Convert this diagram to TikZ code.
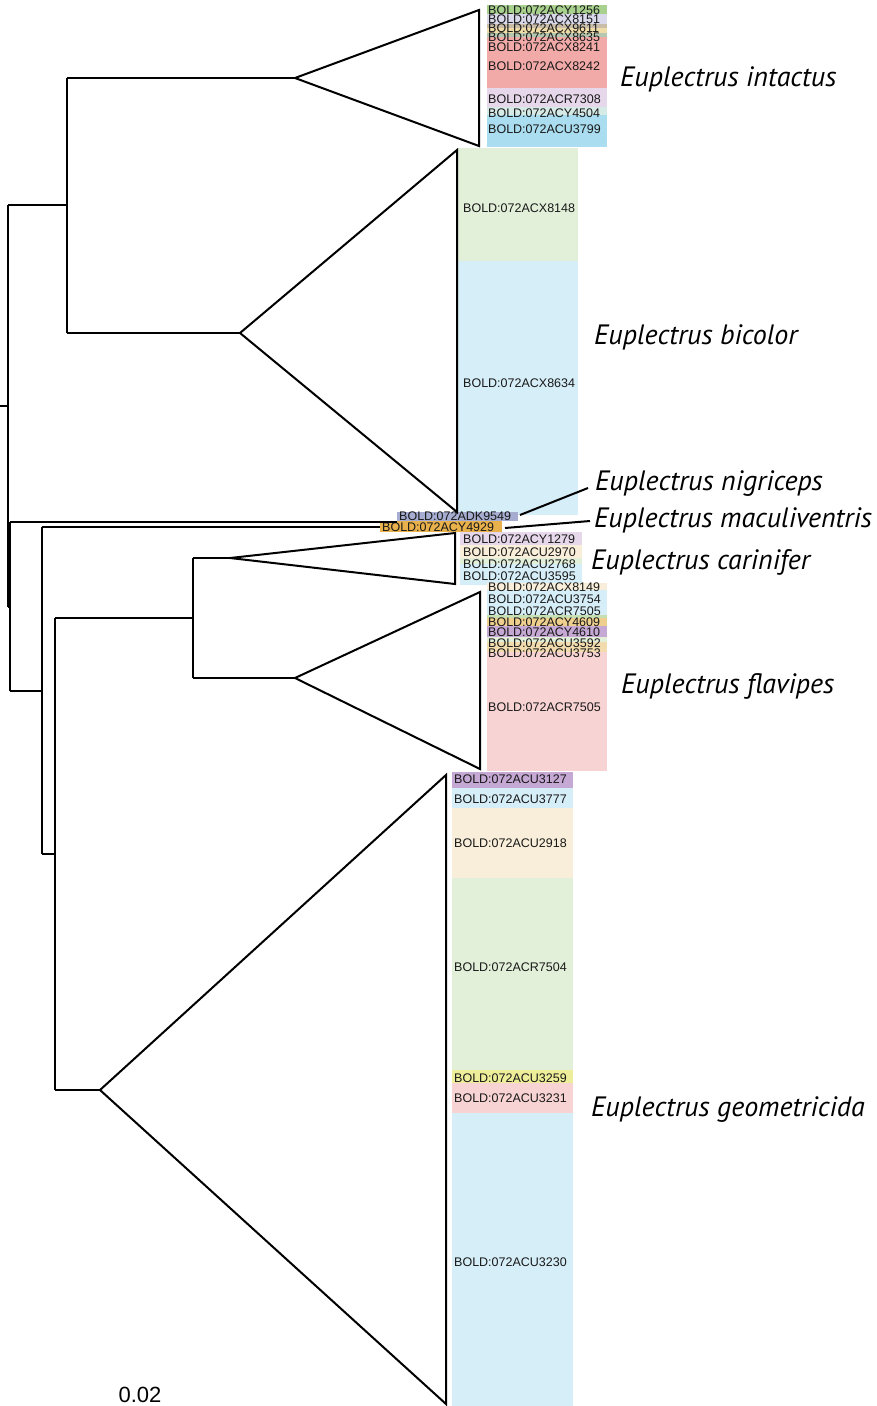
\documentclass[tikz,border=0pt]{standalone}
\usepackage{fontspec}
\setmainfont{Liberation Sans}
\newfontfamily\spfont{PT Sans}
\definecolor{cgreen}{HTML}{A9D18E}
\definecolor{clav}{HTML}{D9D9EB}
\definecolor{cgtan}{HTML}{C9BCA8}
\definecolor{ctan}{HTML}{EFDCA6}
\definecolor{cggreen}{HTML}{B4C7B0}
\definecolor{csalmon}{HTML}{F2AAA8}
\definecolor{clavb}{HTML}{E6D7EA}
\definecolor{cteal}{HTML}{D6EAE6}
\definecolor{cblue}{HTML}{AADDEF}
\definecolor{pgreen}{HTML}{E2EFD9}
\definecolor{pblue}{HTML}{D6EEF8}
\definecolor{pbeige}{HTML}{F8EED9}
\definecolor{ppink}{HTML}{F8D3D3}
\definecolor{ppurple}{HTML}{C5A8D4}
\definecolor{pyellow}{HTML}{EEEE9A}
\definecolor{ngray}{HTML}{A6ADD0}
\definecolor{mgold}{HTML}{E8B14C}
\definecolor{ftan}{HTML}{F2DCAE}
\definecolor{forange}{HTML}{EFCF8E}
\definecolor{fgreen}{HTML}{C6E0B4}
\begin{document}
\begin{tikzpicture}[x=1pt,y=-1pt,
  br/.style={line width=2pt,line join=miter},
  tri/.style={line width=2pt,line join=miter},
  bx/.style={font=\fontsize{12.5}{12.5}\selectfont,anchor=west,inner sep=0pt,text=black!90},
  sp/.style={font=\spfont\itshape\fontsize{28}{28}\selectfont,anchor=west,inner sep=0pt},
  lead/.style={line width=2pt}]
\useasboundingbox (0,0) rectangle (877,1406);
% ---------- coloured boxes ----------
% intactus
\fill[cgreen] (487,5) rectangle (607,14);
\fill[clav] (487,14) rectangle (607,24);
\fill[cgtan] (487,24) rectangle (607,28);
\fill[ctan] (487,28) rectangle (607,33);
\fill[cggreen] (487,33) rectangle (607,37);
\fill[csalmon] (487,37) rectangle (607,88);
\fill[clavb] (487,88) rectangle (607,107);
\fill[cteal] (487,107) rectangle (607,115);
\fill[cblue] (487,115) rectangle (607,147);
\node[bx] (i1) at (488,10) {BOLD:072ACY1256};
\node[bx] (i2) at (488,19) {BOLD:072ACX8151};
\node[bx] (i3) at (488,28) {BOLD:072ACX9611};
\node[bx] (i4) at (488,37) {BOLD:072ACX8635};
\node[bx] (i5) at (488,47) {BOLD:072ACX8241};
\node[bx] (i6) at (488,66) {BOLD:072ACX8242};
\node[bx] (i7) at (488,99) {BOLD:072ACR7308};
\node[bx] (i8) at (488,113) {BOLD:072ACY4504};
\node[bx] (i9) at (488,129) {BOLD:072ACU3799};
% bicolor
\fill[pgreen] (458,148) rectangle (578,261);
\fill[pblue] (458,261) rectangle (578,515);
\node[bx] (b1) at (463,208) {BOLD:072ACX8148};
\node[bx] (b2) at (463,383) {BOLD:072ACX8634};
% carinifer
\fill[clavb] (460,532) rectangle (582,545);
\fill[pbeige] (460,545) rectangle (582,558);
\fill[pgreen] (460,558) rectangle (582,564);
\fill[pblue] (460,564) rectangle (582,585);
\node[bx] (c1) at (463,539) {BOLD:072ACY1279};
\node[bx] (c2) at (463,552) {BOLD:072ACU2970};
\node[bx] (c3) at (463,564) {BOLD:072ACU2768};
\node[bx] (c4) at (463,576) {BOLD:072ACU3595};
% flavipes
\fill[pbeige] (487,583) rectangle (607,590);
\fill[pblue] (487,590) rectangle (607,615);
\fill[fgreen] (487,615) rectangle (607,618);
\fill[forange] (487,618) rectangle (607,626);
\fill[ppurple] (487,626) rectangle (607,637);
\fill[pgreen] (487,637) rectangle (607,642);
\fill[ftan] (487,642) rectangle (607,652);
\fill[ppink] (487,652) rectangle (607,771);
\node[bx] (f1) at (488,587) {BOLD:072ACX8149};
\node[bx] (f2) at (488,599) {BOLD:072ACU3754};
\node[bx] (f3) at (488,611) {BOLD:072ACR7505};
\node[bx] (f4) at (488,622) {BOLD:072ACY4609};
\node[bx] (f5) at (488,632) {BOLD:072ACY4610};
\node[bx] (f6) at (488,643) {BOLD:072ACU3592};
\node[bx] (f7) at (488,653) {BOLD:072ACU3753};
\node[bx] (f8) at (488,707) {BOLD:072ACR7505};
% geometricida
\fill[ppurple] (452,772) rectangle (573,788);
\fill[pblue] (452,788) rectangle (573,808);
\fill[pbeige] (452,808) rectangle (573,878);
\fill[pgreen] (452,878) rectangle (573,1070);
\fill[pyellow] (452,1070) rectangle (573,1083);
\fill[ppink] (452,1083) rectangle (573,1113);
\fill[pblue] (452,1113) rectangle (573,1406);
\node[bx] (g1) at (454,779) {BOLD:072ACU3127};
\node[bx] (g2) at (454,799) {BOLD:072ACU3777};
\node[bx] (g3) at (454,843) {BOLD:072ACU2918};
\node[bx] (g4) at (454,967) {BOLD:072ACR7504};
\node[bx] (g5) at (454,1078) {BOLD:072ACU3259};
\node[bx] (g6) at (454,1098) {BOLD:072ACU3231};
\node[bx] (g7) at (454,1262) {BOLD:072ACU3230};
% ---------- tree nodes ----------
\coordinate (rt) at (0,406);
\coordinate (r) at (8,406);
\coordinate (rA) at (8,205);
\coordinate (rB) at (8,607);
\coordinate (A) at (67,205);
\coordinate (A1) at (67,78);
\coordinate (A2) at (67,333);
\coordinate (B) at (10,607);
\coordinate (B1) at (10,522);
\coordinate (B2) at (10,691);
\coordinate (C) at (42,691);
\coordinate (C1) at (42,527);
\coordinate (C2) at (42,854);
\coordinate (D) at (55,854);
\coordinate (D1) at (55,618);
\coordinate (D2) at (55,1090);
\coordinate (E) at (193,618);
\coordinate (E1) at (193,558);
\coordinate (E2) at (193,678);
% triangle apices and corners
\coordinate (ti) at (295,78);  \coordinate (ti1) at (479,10);  \coordinate (ti2) at (479,146);
\coordinate (tb) at (240,333); \coordinate (tb1) at (457,150); \coordinate (tb2) at (457,512);
\coordinate (tc) at (230,558); \coordinate (tc1) at (455,533); \coordinate (tc2) at (455,584);
\coordinate (tf) at (295,678); \coordinate (tf1) at (480,592); \coordinate (tf2) at (480,769);
\coordinate (tg) at (100,1090); \coordinate (tg1) at (446,775); \coordinate (tg2) at (446,1404);
% single leaves
\fill[ngray] (397,512) rectangle (518,521);
\node[bx] (ln) at (399,516.5) {BOLD:072ADK9549};
\fill[mgold] (380,521) rectangle (502,532);
\node[bx] (lm) at (382,527) {BOLD:072ACY4929};
\coordinate (lnend) at (397,522);
\coordinate (lmend) at (380,527);
% ---------- branches ----------
\draw[br] (rt) -- (r);
\draw[br] (rA) -- (rB);
\draw[br] (rA) -- (A);
\draw[br] (A1) -- (A2);
\draw[br] (A1) -- (ti);
\draw[br] (A2) -- (tb);
\draw[br] (rB) -- (B);
\draw[br] (B1) -- (B2);
\draw[br] (B1) -- (lnend);
\draw[br] (B2) -- (C);
\draw[br] (C1) -- (C2);
\draw[br] (C1) -- (lmend);
\draw[br] (C2) -- (D);
\draw[br] (D1) -- (D2);
\draw[br] (D1) -- (E);
\draw[br] (D2) -- (tg);
\draw[br] (E1) -- (E2);
\draw[br] (E1) -- (tc);
\draw[br] (E2) -- (tf);
% ---------- collapsed clades ----------
\draw[tri] (ti) -- (ti1) -- (ti2) -- cycle;
\draw[tri] (tb) -- (tb1) -- (tb2) -- cycle;
\draw[tri] (tc) -- (tc1) -- (tc2) -- cycle;
\draw[tri] (tf) -- (tf1) -- (tf2) -- cycle;
\draw[tri] (tg) -- (tg1) -- (tg2) -- cycle;
% ---------- species labels ----------
\node[sp] (si) at (620,79) {Euplectrus intactus};
\node[sp] (sb) at (594,337) {Euplectrus bicolor};
\node[sp] (sn) at (595,484) {Euplectrus nigriceps};
\node[sp] (sm) at (594,520) {Euplectrus maculiventris};
\node[sp] (sc) at (591,562) {Euplectrus carinifer};
\node[sp] (sf) at (621,686) {Euplectrus flavipes};
\node[sp] (sg) at (591,1110) {Euplectrus geometricida};
\coordinate (nl) at (520,515);
\coordinate (ml) at (505,528);
\coordinate (nlend) at ([xshift=-7pt,yshift=-4pt]sn.west);
\coordinate (mlend) at ([xshift=-4pt,yshift=-1pt]sm.west);
\draw[lead] (nl) -- (nlend);
\draw[lead] (ml) -- (mlend);
% scale
\node[font=\fontsize{22}{22}\selectfont,inner sep=0pt] (scale) at (140,1395) {0.02};
\end{tikzpicture}
\end{document}
